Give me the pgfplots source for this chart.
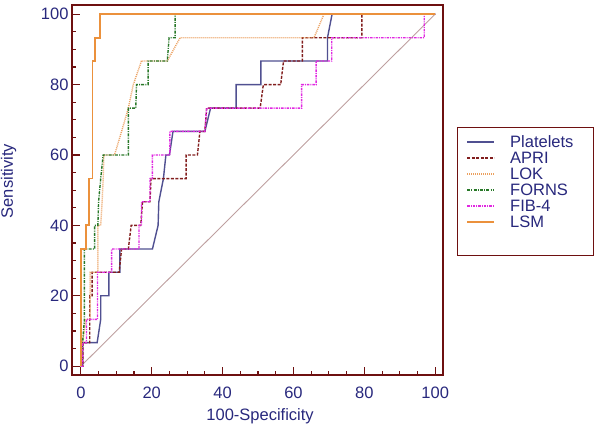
\documentclass[border=0pt]{standalone}
\usepackage{pgfplots}
\pgfplotsset{compat=1.18}
\usepackage{fontspec}
\setmainfont{Liberation Sans}
\definecolor{maroonF}{RGB}{110,16,16}
\definecolor{navyT}{RGB}{40,40,125}
\definecolor{platC}{RGB}{80,80,145}
\definecolor{apriC}{RGB}{130,30,30}
\definecolor{lokC}{RGB}{235,160,95}
\definecolor{fornsC}{RGB}{40,120,40}
\definecolor{fibC}{RGB}{225,40,225}
\definecolor{lsmC}{RGB}{235,145,60}
\definecolor{diagC}{RGB}{190,160,160}
\newcommand\lfont{\fontsize{16.5bp}{19bp}\selectfont}
\begin{document}
\begin{tikzpicture}
\begin{axis}[
  at={(0,0)}, anchor=south west,
  scale only axis, width=371bp, height=370bp,
  xmin=-2.5, xmax=102.2, ymin=-2.5, ymax=102.6,
  xtick={0,20,...,100}, ytick={0,20,...,100},
  minor x tick num=3, minor y tick num=3,
  tick pos=left, tick align=inside,
  major tick length=8bp, minor tick length=4bp,
  tick style={draw=maroonF, line width=1.1bp},
  axis line style={draw=maroonF, line width=2.6bp},
  /pgf/number format/assume math mode=true,
  tick label style={font=\lfont, text=navyT},
  xticklabel style={yshift=-8bp},
  label style={font=\lfont, text=navyT},
  xlabel={100-Specificity}, ylabel={Sensitivity},
  xlabel style={at={(axis description cs:0.507,-0.111)}, anchor=center},
  ylabel style={at={(axis description cs:-0.171,0.524)}, anchor=center},
  legend style={draw=maroonF, line width=0.8bp, fill=white,
    at={(axis description cs:1.0377,0.670)}, anchor=north west,
    font=\lfont, text=navyT, inner xsep=9bp, inner ysep=8bp,
    row sep=0pt, cells={anchor=west},
    nodes={inner sep=0pt, text height=12bp, text depth=4bp},
    /tikz/every odd column/.append style={column sep=15bp}},
  legend cell align=left,
  legend image code/.code={\draw[#1] (0bp,1.5bp) -- (27bp,1.5bp);},
]
% reference diagonal
\addplot[diagC, line width=0.9bp, forget plot] coordinates {(0,0) (100,100)};
% Platelets
\addplot[platC, line width=1.4bp] coordinates {
(0,0) (0.5,0) (0.5,6.7) (4.6,6.7) (5.6,13.3) (5.6,20) (7.9,20) (7.9,26.7)
(11,26.7) (11,33.3) (20.2,33.3) (21.8,40) (22,46.7) (23.3,53.3) (24,60)
(25,60) (26,66.7) (35,66.7) (36.6,73.3) (43.8,73.3) (43.8,80) (50.8,80)
(50.8,86.7) (69.6,86.7) (69.6,93.3) (70.9,100) (100,100)};
\addlegendentry{Platelets\hspace*{11bp}}
% APRI
\addplot[apriC, line width=1.4bp, dash pattern=on 3bp off 1.5bp] coordinates {
(0,0) (0.6,0) (0.6,6.7) (2.5,6.7) (2.5,20) (3.2,20) (3.2,26.7) (10.8,26.7)
(11.5,33.3) (13.4,33.3) (14.2,40) (16.9,40) (17.4,46.7) (19.5,46.7) (19.8,53.3)
(29.7,53.3) (29.7,60) (32.9,60) (33.6,66.7) (35,66.7) (35.5,73.3) (50.6,73.3)
(51.5,80) (56.4,80) (57.2,86.7) (62.5,86.7) (62.5,93.3) (79.3,93.3) (79.3,100)
(100,100)};
\addlegendentry{APRI}
% LOK
\addplot[lokC, line width=1.4bp, dash pattern=on 1bp off 1bp] coordinates {
(0,0) (0.5,6.7) (1.4,13.3) (2.6,13.3) (2.6,26.7) (4.8,26.7) (4.8,40) (5.6,40)
(6,46.7) (6.3,53.3) (6.5,60) (9.5,60) (11.5,66.7) (13.4,73.3) (14.8,80)
(17.1,86.7) (24.4,86.7) (28,93.3) (65.8,93.3) (68.6,100) (100,100)};
\addlegendentry{LOK}
% FORNS
\addplot[fornsC, line width=1.4bp, dash pattern=on 3bp off 1.2bp on 1bp off 1.2bp] coordinates {
(0,0) (0.5,6.7) (1,13.3) (1,33.3) (3.9,33.3) (3.9,40) (4.8,40) (5,46.7)
(5.6,53.3) (6.3,60) (13.4,60) (13.4,73.3) (15.5,73.3) (15.7,80) (19,80)
(19,86.7) (24.4,86.7) (24.9,93.3) (26.6,93.3) (26.6,100) (100,100)};
\addlegendentry{FORNS}
% FIB-4
\addplot[fibC, line width=1.4bp, dash pattern=on 2.5bp off 1bp on 1bp off 1bp] coordinates {
(0,0) (0.5,0) (0.5,6.7) (1.6,6.7) (1.6,13.3) (4.7,13.3) (4.7,26.7) (8.7,26.7)
(8.7,33.3) (16.4,33.3) (16.4,40) (17.1,40) (17.1,46.7) (19.5,46.7) (19.5,53.3)
(20.2,53.3) (20.2,60) (25.1,60) (25.1,66.7) (35,66.7) (35.5,73.3) (62.3,73.3)
(62.3,80) (66.4,80) (66.4,86.7) (70.8,86.7) (70.8,93.3) (96.9,93.3) (96.9,100)
(100,100)};
\addlegendentry{FIB-4}
% LSM
\addplot[lsmC, line width=1.8bp] coordinates {
(0,0) (0,33.3) (1.5,33.3) (1.5,40) (2.3,40) (2.3,53.3) (3.3,53.3) (3.3,86.7)
(3.9,86.7) (3.9,93.3) (5.5,93.3) (5.5,100) (100,100)};
\addlegendentry{LSM}
\addlegendimage{empty legend}
\addlegendentry{}
\end{axis}
\pgfresetboundingbox
\useasboundingbox (-72bp,-52bp) rectangle (524bp,375bp);
\end{tikzpicture}
\end{document}
